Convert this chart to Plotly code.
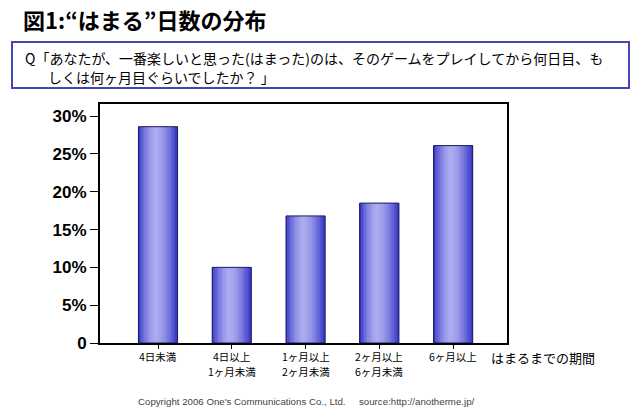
import plotly.graph_objects as go

categories = ["4日未満", "4日以上・1ヶ月未満", "1ヶ月以上・2ヶ月未満", "2ヶ月以上・6ヶ月未満", "6ヶ月以上"]
label_line1 = ["4日未満", "4日以上", "1ヶ月以上", "2ヶ月以上", "6ヶ月以上"]
label_line2 = ["", "1ヶ月未満", "2ヶ月未満", "6ヶ月未満", ""]
values = [28.6, 10.0, 16.8, 18.5, 26.1]
y_tickvals = [0, 5, 10, 15, 20, 25, 30]
y_ticktext = ["0", "5%", "10%", "15%", "20%", "25%", "30%"]

JP = "Noto Sans CJK JP"
fig = go.Figure()

# gradient bars simulated with thin slices
W = 0.53
N = 24
dark = (52, 52, 200)
light = (172, 172, 240)
peak = 0.45
for i in range(N):
    t = (i + 0.5) / N
    d = abs(t - peak) / (peak if t < peak else 1 - peak)
    f = max(0.0, 1 - d ** 1.6)
    c = tuple(int(dark[k] + (light[k] - dark[k]) * f) for k in range(3))
    fig.add_trace(go.Bar(
        x=categories, y=values, width=W / N + 0.002, offset=-W / 2 + i * W / N,
        marker=dict(color="rgb(%d,%d,%d)" % c, line=dict(width=0)),
        hoverinfo="skip", showlegend=False))
fig.add_trace(go.Bar(
    x=categories, y=values, width=W, offset=-W / 2,
    marker=dict(color="rgba(0,0,0,0)", line=dict(color="#1c1c60", width=1)),
    showlegend=False))

annotations = []
for cat, l1, l2 in zip(categories, label_line1, label_line2):
    annotations.append(dict(text=l1, xref="x", yref="paper", x=cat, y=(343 - 356) / 239,
                            xanchor="center", yanchor="middle", showarrow=False, borderpad=0,
                            font=dict(family=JP, size=10.5, color="black")))
    if l2:
        annotations.append(dict(text=l2, xref="x", yref="paper", x=cat, y=(343 - 371) / 239,
                                xanchor="center", yanchor="middle", showarrow=False, borderpad=0,
                                font=dict(family=JP, size=10.5, color="black")))

annotations += [
    dict(text="<b>図1:“はまる”日数の分布</b>", xref="paper", yref="paper",
         x=-79 / 407, y=(343 - 19) / 239, xanchor="left", yanchor="middle", showarrow=False,
         font=dict(family=JP, size=22, color="black")),
    dict(text="Q「あなたが、一番楽しいと思った(はまった)のは、そのゲームをプレイしてから何日目、も",
         xref="paper", yref="paper", x=-77 / 407, y=(343 - 58) / 239,
         xanchor="left", yanchor="middle", showarrow=False,
         font=dict(family=JP, size=14, color="black")),
    dict(text="しくは何ヶ月目ぐらいでしたか？ 」",
         xref="paper", yref="paper", x=-54 / 407, y=(343 - 77) / 239,
         xanchor="left", yanchor="middle", showarrow=False,
         font=dict(family=JP, size=14, color="black")),
    dict(text="はまるまでの期間", xref="paper", yref="paper",
         x=(489 - 100) / 407, y=(343 - 357) / 239, xanchor="left", yanchor="middle",
         showarrow=False, font=dict(family=JP, size=13, color="black")),
    dict(text="Copyright 2006 One's Communications Co., Ltd.&nbsp;&nbsp;&nbsp;&nbsp;&nbsp;source:http://anotherme.jp/",
         xref="paper", yref="paper", x=(136 - 100) / 407, y=(343 - 401) / 239,
         xanchor="left", yanchor="middle", showarrow=False,
         font=dict(family="Liberation Sans", size=9.7, color="#444444")),
]

fig.update_layout(
    width=640, height=415, barmode="overlay",
    margin=dict(l=100, r=133, t=104, b=72),
    paper_bgcolor="white", plot_bgcolor="white",
    xaxis=dict(range=[-0.786, 4.73], showline=True, linecolor="black", linewidth=2, mirror=True,
               ticks="outside", ticklen=4, tickcolor="black", showgrid=False,
               showticklabels=False),
    yaxis=dict(range=[0, 31.6], showline=True, linecolor="black", linewidth=2, mirror=True,
               ticks="outside", ticklen=8, tickcolor="black", showgrid=False, zeroline=False,
               tickvals=y_tickvals, ticktext=y_ticktext,
               tickfont=dict(family="Liberation Sans", size=17, color="black", weight="bold")),
    shapes=[dict(type="rect", xref="paper", yref="paper",
                 x0=-88 / 407, x1=(629 - 100) / 407, y0=(343 - 88) / 239, y1=(343 - 42) / 239,
                 line=dict(color="#4444bb", width=2), fillcolor="white", layer="below")],
    annotations=annotations,
)

fig.write_html("out.html", config={"displayModeBar": False},
               post_script="document.body.style.margin='0';document.body.style.overflow='hidden';")
